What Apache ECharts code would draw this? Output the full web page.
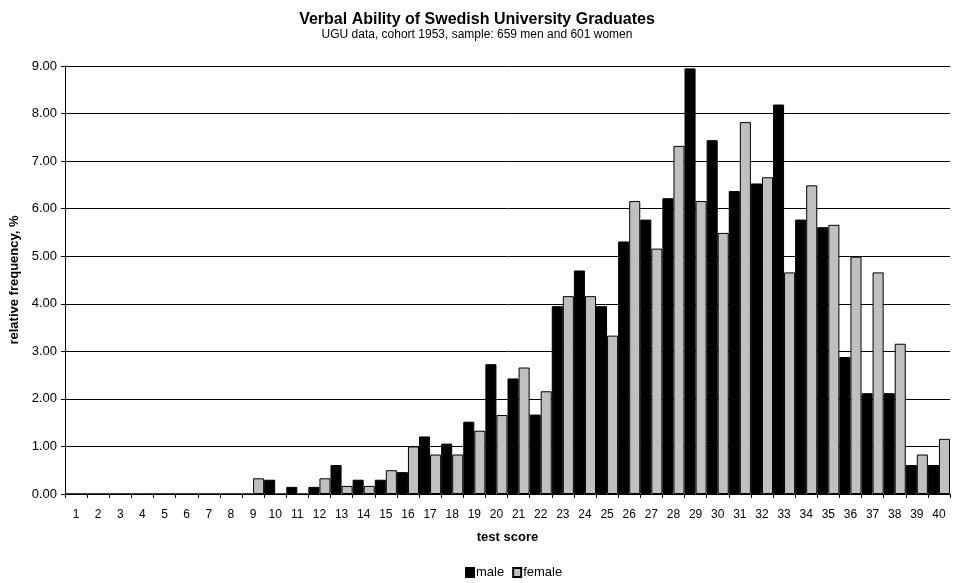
<!DOCTYPE html>
<html>
<head>
<meta charset="utf-8">
<title>Verbal Ability of Swedish University Graduates</title>
<script src="https://cdn.jsdelivr.net/npm/echarts@6/dist/echarts.min.js"></script>
<style>
  html, body { margin: 0; padding: 0; background: #fff; }
  #chart { width: 954px; height: 583px; }
</style>
</head>
<body>
<div id="chart"></div>
<script>
// Test scores 1..40
const scores = Array.from({ length: 40 }, (_, i) => String(i + 1));

// Relative frequency (%) per score, 659 men
const male = [
  0, 0, 0, 0, 0, 0, 0, 0, 0, 0.30,
  0.15, 0.15, 0.61, 0.30, 0.30, 0.46, 1.21, 1.06, 1.52, 2.73,
  2.43, 1.67, 3.95, 4.70, 3.95, 5.31, 5.77, 6.22, 8.95, 7.44,
  6.37, 6.53, 8.19, 5.77, 5.61, 2.88, 2.12, 2.12, 0.61, 0.61
];

// Relative frequency (%) per score, 601 women
const female = [
  0, 0, 0, 0, 0, 0, 0, 0, 0.33, 0,
  0, 0.33, 0.17, 0.17, 0.50, 1.00, 0.83, 0.83, 1.33, 1.66,
  2.66, 2.16, 4.16, 4.16, 3.33, 6.16, 5.16, 7.32, 6.16, 5.49,
  7.82, 6.66, 4.66, 6.49, 5.66, 4.99, 4.66, 3.16, 0.83, 1.16
];

const FONT = '"Liberation Sans", Arial, sans-serif';
const chart = echarts.init(document.getElementById('chart'), null, { renderer: 'canvas' });

chart.setOption({
  backgroundColor: '#ffffff',
  animation: false,
  textStyle: { fontFamily: FONT, color: '#000' },
  title: {
    text: 'Verbal Ability of Swedish University Graduates',
    subtext: 'UGU data, cohort 1953, sample: 659 men and 601 women',
    left: 'center',
    top: 7,
    itemGap: 1,
    textStyle: { fontFamily: FONT, fontSize: 16, fontWeight: 'bold', color: '#000' },
    subtextStyle: { fontFamily: FONT, fontSize: 12, color: '#000' }
  },
  legend: {
    top: 561,
    left: 460,
    itemWidth: 8,
    itemHeight: 9,
    itemGap: 8,
    icon: 'rect',
    textStyle: { fontFamily: FONT, fontSize: 13, color: '#000', padding: [0, 0, 0, -3] },
    data: ['male', 'female']
  },
  grid: {
    left: 65, right: 4, top: 66, bottom: 89,
    containLabel: false,
    outerBoundsMode: 'none'
  },
  xAxis: {
    type: 'category',
    data: scores,
    boundaryGap: true,
    name: 'test score',
    nameLocation: 'middle',
    nameGap: 37,
    nameTextStyle: { fontFamily: FONT, fontSize: 13, fontWeight: 'bold', color: '#000' },
    axisLine: { lineStyle: { color: '#000', width: 1 } },
    axisTick: { show: true, alignWithLabel: false, length: 4, lineStyle: { color: '#000' } },
    axisLabel: { interval: 0, margin: 15, fontFamily: FONT, fontSize: 12, color: '#000' },
    splitLine: { show: false }
  },
  yAxis: {
    type: 'value',
    min: 0,
    max: 9,
    interval: 1,
    name: 'relative frequency, %',
    nameLocation: 'middle',
    nameGap: 44,
    nameTextStyle: { fontFamily: FONT, fontSize: 13, fontWeight: 'bold', color: '#000' },
    axisLine: { show: true, lineStyle: { color: '#000', width: 1 } },
    axisTick: { show: true, length: 4, lineStyle: { color: '#000' } },
    axisLabel: {
      margin: 8,
      fontFamily: FONT,
      fontSize: 13,
      color: '#000',
      formatter: v => v.toFixed(2)
    },
    splitLine: { show: true, lineStyle: { color: '#000', width: 1 } }
  },
  series: [
    {
      name: 'male',
      type: 'bar',
      data: male,
      barGap: '0%',
      barCategoryGap: '0%',
      itemStyle: { color: '#000000', borderColor: '#000', borderWidth: 1 }
    },
    {
      name: 'female',
      type: 'bar',
      data: female,
      barGap: '0%',
      barCategoryGap: '0%',
      itemStyle: { color: '#c0c0c0', borderColor: '#000', borderWidth: 1 }
    }
  ]
});
</script>
</body>
</html>
